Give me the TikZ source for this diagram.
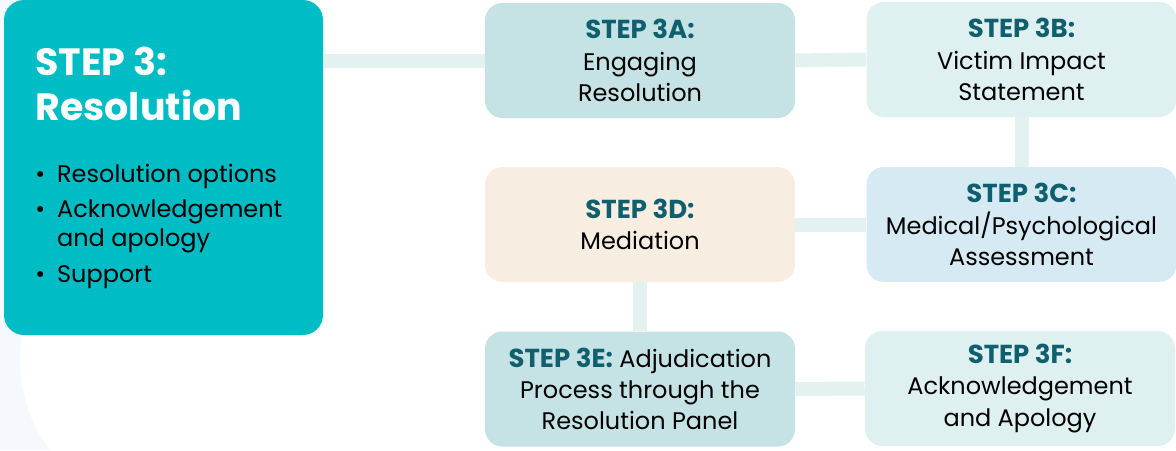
\documentclass[tikz,border=0pt]{standalone}
\usepackage{fontspec}
\setmainfont{Poppins}
\definecolor{mainteal}{HTML}{00BCC5}
\definecolor{boxdark}{HTML}{C5E3E5}
\definecolor{boxlight}{HTML}{DFF0F0}
\definecolor{boxblue}{HTML}{D6EAF4}
\definecolor{boxsand}{HTML}{F8EDE1}
\definecolor{steptxt}{HTML}{0F5F6F}
\definecolor{linkcol}{HTML}{E4F1F1}
\definecolor{palebg}{HTML}{F5F9FD}
\newcommand{\stp}[1]{{\fontsize{19.5}{23.5}\selectfont\textcolor{steptxt}{\bfseries #1}}}
\tikzset{
    stepbox/.style={fill=#1, rounded corners=13pt, minimum width=232.5pt,
        minimum height=86.25pt, align=center, inner sep=0pt,
        font=\fontsize{18}{23.5}\selectfont},
    link/.style={linkcol, line width=10.5pt}
}
\begin{document}
\begin{tikzpicture}[x=0.75pt,y=-0.75pt]
    \useasboundingbox (0,0) rectangle (1176,450);
    % faint backdrop
    \fill[palebg] (0,0) rectangle (60,450);
    \fill[white] (170,360) circle (150);
    % main block
    \node (main) [fill=mainteal, rounded corners=15pt, minimum width=239.25pt,
        minimum height=251.25pt, inner sep=0pt] at (163.5,167.5) {};
    \node (title) [anchor=base west, inner sep=0pt, text=white,
        font=\fontsize{28.5}{33.75}\selectfont\bfseries] at (35,75)
        {\begin{tabular}[t]{@{}l@{}}STEP 3:\\Resolution\end{tabular}};
    \node (items) [anchor=base west, inner sep=0pt,
        font=\fontsize{18}{21.75}\selectfont] at (35,182)
        {\begin{tabular}[t]{@{}l@{\hspace{9pt}}l@{}}
            \textbullet & Resolution options\\[5pt]
            \textbullet & Acknowledgement\\
                        & and apology\\[5pt]
            \textbullet & Support
        \end{tabular}};
    % steps
    \node (a3) [stepbox=boxdark] at (640,60.5) {\stp{STEP 3A:}\\Engaging\\Resolution};
    \node (b3) [stepbox=boxlight] at (1021.5,59.5) {\stp{STEP 3B:}\\Victim Impact\\Statement};
    \node (c3) [stepbox=boxblue] at (1021.5,224.5) {\stp{STEP 3C:}\\Medical/Psychological\\Assessment};
    \node (d3) [stepbox=boxsand] at (640,224.5) {\stp{STEP 3D:}\\Mediation};
    \node (e3) [stepbox=boxdark] at (640,389) {\stp{STEP 3E:} Adjudication\\Process through the\\Resolution Panel};
    \node (f3) [stepbox=boxlight] at (1020,388.5) {\stp{STEP 3F:}\\Acknowledgement\\and Apology};
    % links
    \draw[link] (main.east |- a3.west) -- (a3.west);
    \draw[link] (a3.east) -- (b3.west);
    \draw[link] (b3.south) -- (c3.north);
    \draw[link] (d3.east) -- (c3.west);
    \draw[link] (d3.south) -- (e3.north);
    \draw[link] (e3.east) -- (f3.west);
\end{tikzpicture}
\end{document}
